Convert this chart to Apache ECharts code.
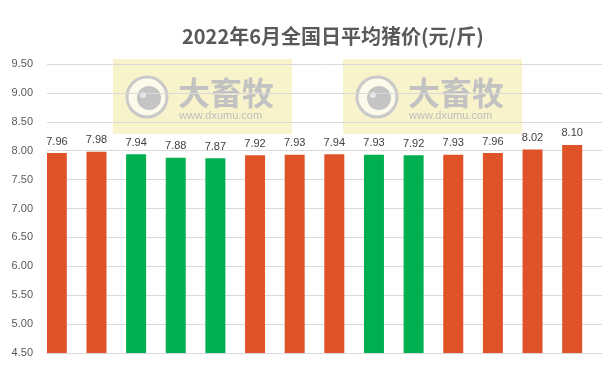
<!DOCTYPE html>
<html>
<head>
<meta charset="utf-8">
<script src="https://cdn.jsdelivr.net/npm/echarts@6/dist/echarts.min.js"></script>
<style>html,body{margin:0;padding:0;background:#fff}#c{width:613px;height:374px}</style>
</head>
<body>
<div id="c"></div>
<script>
var categories = ['6/1','6/2','6/3','6/4','6/5','6/6','6/7','6/8','6/9','6/10','6/11','6/12','6/13','6/14'];
var prices = [7.96, 7.98, 7.94, 7.88, 7.87, 7.92, 7.93, 7.94, 7.93, 7.92, 7.93, 7.96, 8.02, 8.10];
var trend = ['up','up','down','down','down','up','up','up','down','down','up','up','up','up'];
var yTicks = {min: 4.5, max: 9.5, step: 0.5};
var titleText = '2022年6月全国日平均猪价(元/斤)';

var UP = '#E05328', DOWN = '#00B050';
var chart = echarts.init(document.getElementById('c'), null, {renderer: 'canvas'});

function watermark(x0, y0) {
  return [
    {type: 'rect', shape: {x: x0, y: y0, width: 179, height: 75}, style: {fill: 'rgba(242,233,160,0.55)'}, z: 0, silent: true},
    {type: 'circle', shape: {cx: x0 + 34, cy: y0 + 38, r: 20}, style: {fill: 'rgba(255,255,255,0.6)', stroke: '#C9C9C9', lineWidth: 3}, z: 0},
    {type: 'circle', shape: {cx: x0 + 36, cy: y0 + 39, r: 12}, style: {fill: '#C4C4C4'}, z: 0},
    {type: 'circle', shape: {cx: x0 + 30, cy: y0 + 36, r: 3}, style: {fill: '#E8E8E8'}, z: 0},
    {type: 'text', x: x0 + 65, y: y0 + 18, style: {text: '大畜牧', fill: '#C2C2C2', font: 'bold 32px "Noto Sans CJK SC"'}, z: 0},
    {type: 'text', x: x0 + 66, y: y0 + 51, style: {text: 'www.dxumu.com', fill: '#BDBDBD', font: '11px "Liberation Sans"'}, z: 0}
  ];
}

var option = {
  animation: false,
  backgroundColor: '#fff',
  title: {
    text: titleText,
    left: 177, top: 21,
    textStyle: {fontFamily: '"Noto Sans CJK SC"', fontWeight: 'bold', fontSize: 20, color: '#595959'}
  },
  grid: {left: 47, right: 11, top: 64, bottom: 21},
  xAxis: {
    type: 'category', data: categories,
    axisLine: {show: true, lineStyle: {color: '#D9D9D9'}},
    axisTick: {show: false}, axisLabel: {show: false}
  },
  yAxis: {
    type: 'value', min: yTicks.min, max: yTicks.max, interval: yTicks.step,
    axisLine: {show: false}, axisTick: {show: false},
    axisLabel: {margin: 14, color: '#595959', fontSize: 11, fontFamily: '"Liberation Sans"', formatter: function (v) { return v.toFixed(2); }},
    splitLine: {lineStyle: {color: '#D9D9D9', width: 1}}
  },
  graphic: watermark(113, 59).concat(watermark(343, 59)),
  series: [
    {
      type: 'bar', barWidth: 20, barGap: '0%', z: 3,
      data: prices.map(function (v, i) { return {value: v, itemStyle: {color: trend[i] === 'up' ? UP : DOWN}}; }),
      label: {show: true, position: 'top', distance: 6, color: '#404040', fontSize: 11, fontFamily: '"Liberation Sans"', formatter: function (p) { return p.value.toFixed(2); }}
    },
    {
      type: 'bar', barWidth: 20, data: prices.map(function () { return '-'; })
    }
  ]
};
chart.setOption(option);
</script>
</body>
</html>
